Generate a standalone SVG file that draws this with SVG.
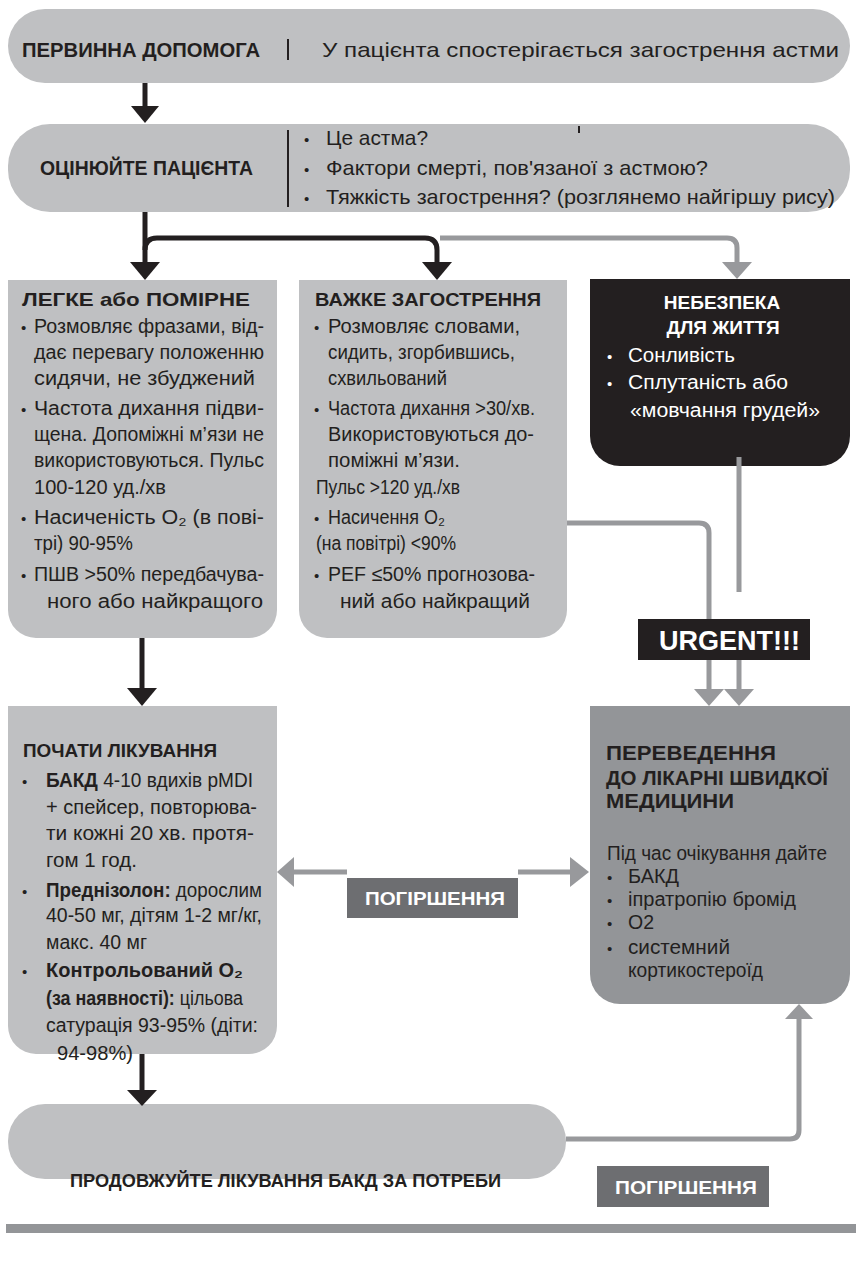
<svg xmlns="http://www.w3.org/2000/svg" width="856" height="1270" viewBox="0 0 856 1270">
<style>
.box{fill:#bfc0c2}
.dk{fill:#939598}
.blk{fill:#231f20}
.lbl{fill:#6d6e71}
text{font-family:"Liberation Sans",Arial,sans-serif;fill:#231f20}
.b{font-weight:bold}
.w{fill:#ffffff}
.s21{font-size:21px}
.s20{font-size:20px}
.s19{font-size:19px}
.bu{font-size:15px}
.ck{stroke:#231f20;stroke-width:5;fill:none}
.cg{stroke:#98999c;stroke-width:5;fill:none}
.ah{fill:#231f20}
.ag{fill:#98999c}
.bar{stroke:#231f20;stroke-width:2}
</style>
<rect width="856" height="1270" fill="#ffffff"/>

<g id="primary-care">
<rect class="box" x="8" y="9" width="842" height="74" rx="37"/>
<text class="b s20" x="22" y="57" textLength="238" lengthAdjust="spacingAndGlyphs">ПЕРВИННА ДОПОМОГА</text>
<line class="bar" x1="288" y1="39" x2="288" y2="60"/>
<text class="s21" x="322" y="57" textLength="517" lengthAdjust="spacingAndGlyphs">У пацієнта спостерігається загострення астми</text>
</g>

<g id="assess">
<rect class="box" x="8" y="124" width="842" height="88" rx="42"/>
<text class="b s20" x="40" y="175" textLength="213" lengthAdjust="spacingAndGlyphs">ОЦІНЮЙТЕ ПАЦІЄНТА</text>
<line class="bar" x1="288" y1="130" x2="288" y2="207"/>
<line class="bar" x1="579" y1="126" x2="579" y2="133"/>
<text class="bu" x="304" y="145">•</text>
<text class="s21" x="326" y="145" textLength="102" lengthAdjust="spacingAndGlyphs">Це астма?</text>
<text class="bu" x="304" y="175">•</text>
<text class="s21" x="326" y="175" textLength="382" lengthAdjust="spacingAndGlyphs">Фактори смерті, пов'язаної з астмою?</text>
<text class="bu" x="304" y="204">•</text>
<text class="s21" x="326" y="204" textLength="509" lengthAdjust="spacingAndGlyphs">Тяжкість загострення? (розглянемо найгіршу рису)</text>
</g>

<g id="mild">
<path class="box" d="M8,280 H277 V610 A28,28 0 0 1 249,638 H36 A28,28 0 0 1 8,610 Z"/>
<text class="b s19" x="22" y="306" textLength="228" lengthAdjust="spacingAndGlyphs">ЛЕГКЕ або ПОМІРНЕ</text>
<text class="bu" x="21" y="333">•</text>
<text class="s20" x="34" y="333" textLength="230" lengthAdjust="spacingAndGlyphs">Розмовляє фразами, від-</text>
<text class="s20" x="34" y="359" textLength="230" lengthAdjust="spacingAndGlyphs">дає перевагу положенню</text>
<text class="s20" x="34" y="385" textLength="221" lengthAdjust="spacingAndGlyphs">сидячи, не збуджений</text>
<text class="bu" x="21" y="415">•</text>
<text class="s20" x="34" y="415" textLength="230" lengthAdjust="spacingAndGlyphs">Частота дихання підви-</text>
<text class="s20" x="34" y="441" textLength="230" lengthAdjust="spacingAndGlyphs">щена. Допоміжні м’язи не</text>
<text class="s20" x="34" y="467" textLength="230" lengthAdjust="spacingAndGlyphs">використовуються.  Пульс</text>
<text class="s20" x="34" y="494" textLength="132" lengthAdjust="spacingAndGlyphs">100-120 уд./хв</text>
<text class="bu" x="21" y="524">•</text>
<text class="s20" x="34" y="524" textLength="230" lengthAdjust="spacingAndGlyphs">Насиченість O₂ (в пові-</text>
<text class="s20" x="34" y="550" textLength="99" lengthAdjust="spacingAndGlyphs">трі) 90-95%</text>
<text class="bu" x="21" y="581">•</text>
<text class="s20" x="34" y="581" textLength="230" lengthAdjust="spacingAndGlyphs">ПШВ &gt;50% передбачува-</text>
<text class="s20" x="47" y="608" textLength="216" lengthAdjust="spacingAndGlyphs">ного або найкращого</text>
</g>

<g id="severe">
<path class="box" d="M299,280 H567 V610 A28,28 0 0 1 539,638 H327 A28,28 0 0 1 299,610 Z"/>
<text class="b s19" x="315" y="306" textLength="226" lengthAdjust="spacingAndGlyphs">ВАЖКЕ  ЗАГОСТРЕННЯ</text>
<text class="bu" x="314" y="333">•</text>
<text class="s20" x="328" y="333" textLength="192" lengthAdjust="spacingAndGlyphs">Розмовляє словами,</text>
<text class="s20" x="328" y="359" textLength="187" lengthAdjust="spacingAndGlyphs">сидить, згорбившись,</text>
<text class="s20" x="328" y="385" textLength="119" lengthAdjust="spacingAndGlyphs">схвильований</text>
<text class="bu" x="314" y="415">•</text>
<text class="s20" x="328" y="415" textLength="207" lengthAdjust="spacingAndGlyphs">Частота дихання &gt;30/хв.</text>
<text class="s20" x="328" y="441" textLength="206" lengthAdjust="spacingAndGlyphs">Використовуються до-</text>
<text class="s20" x="328" y="467" textLength="132" lengthAdjust="spacingAndGlyphs">поміжні м’язи.</text>
<text class="s20" x="316" y="494" textLength="144" lengthAdjust="spacingAndGlyphs">Пульс &gt;120 уд./хв</text>
<text class="bu" x="314" y="524">•</text>
<text class="s20" x="328" y="524" textLength="117" lengthAdjust="spacingAndGlyphs">Насичення O₂</text>
<text class="s20" x="316" y="550" textLength="140" lengthAdjust="spacingAndGlyphs">(на повітрі) &lt;90%</text>
<text class="bu" x="314" y="581">•</text>
<text class="s20" x="328" y="581" textLength="207" lengthAdjust="spacingAndGlyphs">PEF ≤50% прогнозова-</text>
<text class="s20" x="340" y="608" textLength="190" lengthAdjust="spacingAndGlyphs">ний або найкращий</text>
</g>

<g id="life-threatening">
<path class="blk" d="M590,279 H850 V436 A30,30 0 0 1 820,466 H620 A30,30 0 0 1 590,436 Z"/>
<text class="b s19 w" x="722" y="309" text-anchor="middle">НЕБЕЗПЕКА</text>
<text class="b s19 w" x="723" y="334" text-anchor="middle">ДЛЯ ЖИТТЯ</text>
<text class="bu w" x="607" y="362">•</text>
<text class="s20 w" x="628" y="362" textLength="107" lengthAdjust="spacingAndGlyphs">Сонливість</text>
<text class="bu w" x="607" y="389">•</text>
<text class="s20 w" x="628" y="389" textLength="160" lengthAdjust="spacingAndGlyphs">Сплутаність або</text>
<text class="s20 w" x="630" y="417" textLength="190" lengthAdjust="spacingAndGlyphs">«мовчання грудей»</text>
</g>

<g id="start-treatment">
<path class="box" d="M8,706 H277 V1026 A28,28 0 0 1 249,1054 H36 A28,28 0 0 1 8,1026 Z"/>
<text class="b s19" x="23" y="757" textLength="194" lengthAdjust="spacingAndGlyphs">ПОЧАТИ ЛІКУВАННЯ</text>
<text class="bu" x="22" y="787">•</text>
<text class="s20" x="46" y="787" textLength="207" lengthAdjust="spacingAndGlyphs"><tspan class="b">БАКД</tspan> 4-10 вдихів pMDI</text>
<text class="s20" x="46" y="814" textLength="211" lengthAdjust="spacingAndGlyphs">+ спейсер, повторюва-</text>
<text class="s20" x="46" y="840" textLength="208" lengthAdjust="spacingAndGlyphs">ти кожні 20 хв. протя-</text>
<text class="s20" x="46" y="867" textLength="91" lengthAdjust="spacingAndGlyphs">гом 1 год.</text>
<text class="bu" x="22" y="897">•</text>
<text class="s20" x="46" y="897" textLength="216" lengthAdjust="spacingAndGlyphs"><tspan class="b">Преднізолон:</tspan> дорослим</text>
<text class="s20" x="46" y="922" textLength="216" lengthAdjust="spacingAndGlyphs">40-50 мг, дітям 1-2 мг/кг,</text>
<text class="s20" x="46" y="949" textLength="101" lengthAdjust="spacingAndGlyphs">макс. 40 мг</text>
<text class="bu" x="22" y="977">•</text>
<text class="s20 b" x="46" y="977" textLength="197" lengthAdjust="spacingAndGlyphs">Контрольований O₂</text>
<text class="s20" x="46" y="1005" textLength="197" lengthAdjust="spacingAndGlyphs"><tspan class="b">(за наявності):</tspan> цільова</text>
<text class="s20" x="46" y="1032" textLength="212" lengthAdjust="spacingAndGlyphs">сатурація 93-95% (діти:</text>
<text class="s20" x="57" y="1060" textLength="76" lengthAdjust="spacingAndGlyphs">94-98%)</text>
</g>

<g id="transfer">
<path class="dk" d="M590,706 H850 V974 A30,30 0 0 1 820,1004 H620 A30,30 0 0 1 590,974 Z"/>
<text class="b s20" x="606" y="760" textLength="170" lengthAdjust="spacingAndGlyphs">ПЕРЕВЕДЕННЯ</text>
<text class="b s20" x="606" y="785" textLength="222" lengthAdjust="spacingAndGlyphs">ДО ЛІКАРНІ ШВИДКОЇ</text>
<text class="b s20" x="606" y="808" textLength="128" lengthAdjust="spacingAndGlyphs">МЕДИЦИНИ</text>
<text class="s20" x="607" y="860" textLength="220" lengthAdjust="spacingAndGlyphs">Під час очікування дайте</text>
<text class="bu" x="607" y="883">•</text>
<text class="s20" x="628" y="883" textLength="51" lengthAdjust="spacingAndGlyphs">БАКД</text>
<text class="bu" x="607" y="906">•</text>
<text class="s20" x="628" y="906" textLength="168" lengthAdjust="spacingAndGlyphs">іпратропію бромід</text>
<text class="bu" x="607" y="929">•</text>
<text class="s20" x="628" y="929" textLength="26" lengthAdjust="spacingAndGlyphs">O2</text>
<text class="bu" x="607" y="954">•</text>
<text class="s20" x="628" y="954" textLength="102" lengthAdjust="spacingAndGlyphs">системний</text>
<text class="s20" x="628" y="977" textLength="135" lengthAdjust="spacingAndGlyphs">кортикостероїд</text>
</g>

<g id="continue">
<rect class="box" x="8" y="1104" width="558" height="75" rx="37"/>
<text class="b s19" x="70" y="1187" textLength="431" lengthAdjust="spacingAndGlyphs">ПРОДОВЖУЙТЕ ЛІКУВАННЯ БАКД ЗА ПОТРЕБИ</text>
</g>

<g id="connectors">
<line class="ck" x1="145" y1="83" x2="145" y2="108"/>
<polygon class="ah" points="131,106 159,106 145,123"/>
<path class="cg" d="M440,238 H727 Q737,238 737,248 V263"/>
<polygon class="ag" points="722,262 752,262 737,279"/>
<line class="ck" x1="145" y1="212" x2="145" y2="263"/>
<path class="ck" d="M145,250 Q145,238 157,238 H425 Q437,238 437,250 V263"/>
<polygon class="ah" points="130,262 160,262 145,280"/>
<polygon class="ah" points="422,262 452,262 437,280"/>
<line class="ck" x1="142" y1="638" x2="142" y2="690"/>
<polygon class="ah" points="127,688 157,688 142,706"/>
<line class="ck" x1="142" y1="1054" x2="142" y2="1092"/>
<polygon class="ah" points="127,1090 157,1090 142,1106"/>
<path class="cg" d="M567,523 H699 Q709,523 709,533 V691"/>
<polygon class="ag" points="694,689 724,689 709,706"/>
<line class="cg" x1="739" y1="457" x2="739" y2="592"/>
<line class="cg" x1="739" y1="660" x2="739" y2="691"/>
<polygon class="ag" points="724,689 754,689 739,706"/>
<line class="cg" x1="294" y1="872" x2="347" y2="872" stroke-width="6"/>
<polygon class="ag" points="294,857 294,887 277,872"/>
<line class="cg" x1="518" y1="872" x2="571" y2="872" stroke-width="6"/>
<polygon class="ag" points="570,857 570,887 589,872"/>
<path class="cg" d="M566,1139 H790 Q799,1139 799,1130 V1017"/>
<polygon class="ag" points="785,1019 813,1019 799,1004"/>
</g>

<g id="urgent">
<rect class="blk" x="638" y="619" width="172" height="41"/>
<text class="b w" font-size="28" x="659" y="650" textLength="141" lengthAdjust="spacingAndGlyphs">URGENT!!!</text>
</g>

<g id="worsening-mid">
<rect class="lbl" x="347" y="878" width="171" height="40"/>
<text class="b s19 w" x="365" y="905" textLength="140" lengthAdjust="spacingAndGlyphs">ПОГІРШЕННЯ</text>
</g>

<g id="worsening-bottom">
<rect class="lbl" x="597" y="1166" width="172" height="41"/>
<text class="b s19 w" x="615" y="1194" textLength="142" lengthAdjust="spacingAndGlyphs">ПОГІРШЕННЯ</text>
</g>

<rect id="bottom-rule" x="6" y="1224" width="850" height="9" fill="#939598"/>
</svg>
